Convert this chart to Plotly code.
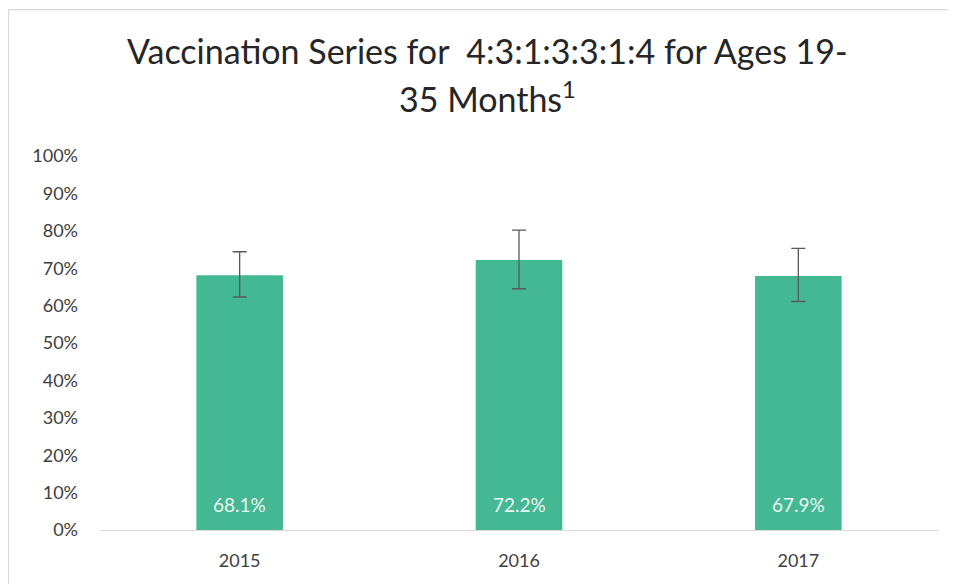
import plotly.graph_objects as go

years = ["2015", "2016", "2017"]
rates = [0.681, 0.722, 0.679]
err_plus = [0.063, 0.080, 0.074]
err_minus = [0.058, 0.077, 0.068]
y_ticks = [i / 10 for i in range(11)]

bar_color = "rgb(68,184,146)"
font_family = "Lato, 'Open Sans', sans-serif"

fig = go.Figure()
fig.add_trace(go.Bar(
    x=years, y=rates, width=0.31,
    marker=dict(color=bar_color, line=dict(width=0)),
    error_y=dict(type="data", symmetric=False, array=err_plus, arrayminus=err_minus,
                 color="#595959", thickness=1.3, width=7),
    hoverinfo="x+y",
))

for i, v in enumerate(rates):
    fig.add_annotation(x=i, y=0, xref="x", yref="y", text=f"{v*100:.1f}%",
                       showarrow=False, yanchor="middle", yshift=26,
                       font=dict(family=font_family, size=19, color="#EAF7F1"))

fig.add_annotation(x=0.463, y=1.2826, xref="paper", yref="paper",
                   text="Vaccination Series for&nbsp; 4:3:1:3:3:1:4 for Ages 19-",
                   showarrow=False, xanchor="center", yanchor="middle",
                   font=dict(family=font_family, size=34, color="#262626"))
fig.add_annotation(x=0.463, y=1.1586, xref="paper", yref="paper",
                   text="35 Months<sup>1</sup>",
                   showarrow=False, xanchor="center", yanchor="middle",
                   font=dict(family=font_family, size=34, color="#262626"))

# outer chart border (left and top edges visible)
fig.add_shape(type="rect", xref="paper", yref="paper",
              x0=-0.1092, x1=1.05, y0=-0.2, y1=1.3916,
              line=dict(color="#D9D9D9", width=1.2), fillcolor="rgba(0,0,0,0)", layer="below")

fig.update_layout(
    width=956, height=584,
    margin=dict(l=92, r=26, t=148, b=62),
    paper_bgcolor="white", plot_bgcolor="white",
    showlegend=False,
    font=dict(family=font_family, color="#595959"),
)
fig.update_xaxes(type="category", range=[-0.5, 2.5], showgrid=False, showline=True,
                 linecolor="#D9D9D9", linewidth=1.3, ticks="",
                 tickfont=dict(size=18, color="#404040"), ticklabelstandoff=14)
fig.update_yaxes(range=[0, 1], tickvals=y_ticks, tickformat=".0%", showgrid=False,
                 showline=False, zeroline=False, ticks="",
                 tickfont=dict(size=18, color="#404040"), ticklabelstandoff=21)

fig.write_html("out.html")
